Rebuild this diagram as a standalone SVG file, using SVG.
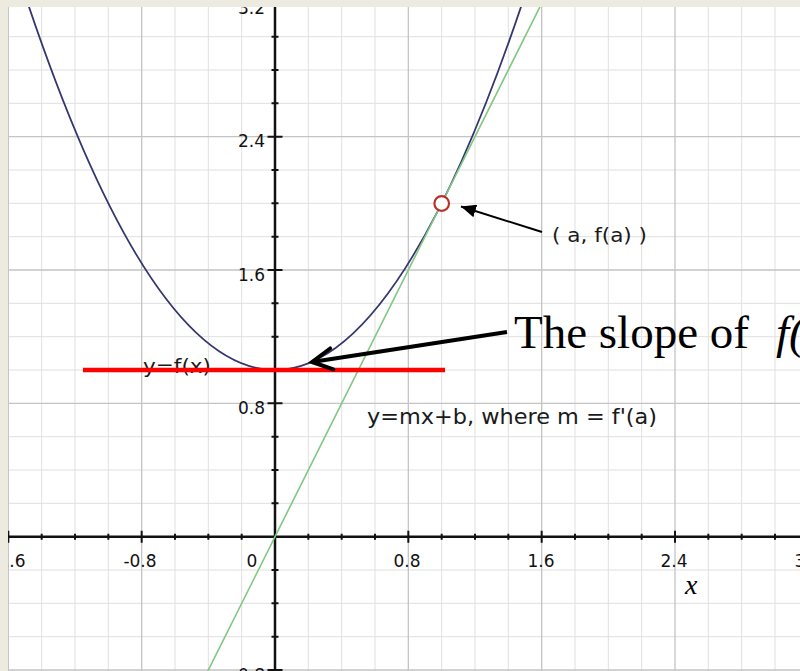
<svg xmlns="http://www.w3.org/2000/svg" width="800" height="671" viewBox="0 0 800 671">
<style>
.minor{stroke:#e0e0e0;stroke-width:1;fill:none}
.major{stroke:#c4c4c4;stroke-width:1.3;fill:none}
.axis{stroke:#111;stroke-width:2.5;fill:none}
.tick{stroke:#111;stroke-width:2;fill:none}
.lbl{font-family:"DejaVu Sans",Verdana,sans-serif;font-size:17px;fill:#111}
.note{font-family:"DejaVu Sans",Verdana,sans-serif;fill:#1a1a1a}
.serif{font-family:"Liberation Serif","Times New Roman",serif;fill:#000}
</style>
<defs>
<clipPath id="panel"><rect x="8" y="7" width="792" height="664"/></clipPath>
<marker id="tri" markerUnits="userSpaceOnUse" viewBox="0 0 15 13" refX="15" refY="6.5" markerWidth="15" markerHeight="13" orient="auto">
<path d="M0,0 L15,6.5 L0,13 z" fill="#000"/>
</marker>
<marker id="vee" markerUnits="userSpaceOnUse" viewBox="-4 -15 28 30" refX="20" refY="0" markerWidth="28" markerHeight="30" orient="auto" style="overflow:visible">
<path d="M0,-10.6 L20,0 L0,10.6" fill="none" stroke="#000" stroke-width="4" stroke-linecap="round"/>
</marker>
</defs>
<rect x="0" y="0" width="800" height="671" fill="#EDEAE0"/>
<g clip-path="url(#panel)">
<rect x="8" y="7" width="792" height="664" fill="#fff"/>
<g id="grid">
<path class="minor" d="M41.67 0V671M75 0V671M108.33 0V671M175 0V671M208.33 0V671M241.67 0V671M308.33 0V671M341.67 0V671M375 0V671M441.67 0V671M475 0V671M508.33 0V671M575 0V671M608.33 0V671M641.67 0V671M708.33 0V671M741.67 0V671M775 0V671M0 636.67H800M0 603.33H800M0 570H800M0 503.33H800M0 470H800M0 436.67H800M0 370H800M0 336.67H800M0 303.33H800M0 236.67H800M0 203.33H800M0 170H800M0 103.33H800M0 70H800M0 36.67H800"/>
<path class="major" d="M8.33 0V671M141.67 0V671M408.33 0V671M541.67 0V671M675 0V671M0 670H800M0 403.33H800M0 270H800M0 136.67H800M0 3.33H800"/>
</g>
<g id="axes">
<path class="axis" d="M8 536.67H800M275 7V671"/>
<path class="tick" d="M41.67 533.67V539.67M75 533.67V539.67M108.33 533.67V539.67M175 533.67V539.67M208.33 533.67V539.67M241.67 533.67V539.67M308.33 533.67V539.67M341.67 533.67V539.67M375 533.67V539.67M441.67 533.67V539.67M475 533.67V539.67M508.33 533.67V539.67M575 533.67V539.67M608.33 533.67V539.67M641.67 533.67V539.67M708.33 533.67V539.67M741.67 533.67V539.67M775 533.67V539.67"/>
<path class="tick" d="M8.33 530.67V542.67M141.67 530.67V542.67M408.33 530.67V542.67M541.67 530.67V542.67M675 530.67V542.67"/>
<path class="tick" d="M271.5 636.67H278.5M271.5 603.33H278.5M271.5 570H278.5M271.5 503.33H278.5M271.5 470H278.5M271.5 436.67H278.5M271.5 370H278.5M271.5 336.67H278.5M271.5 303.33H278.5M271.5 236.67H278.5M271.5 203.33H278.5M271.5 170H278.5M271.5 103.33H278.5M271.5 70H278.5M271.5 36.67H278.5"/>
<path class="tick" d="M267.5 670H282.5M267.5 403.33H282.5M267.5 270H282.5M267.5 136.67H282.5M267.5 3.33H282.5"/>
<g class="lbl" text-anchor="end">
<text x="265" y="14">3.2</text>
<text x="265" y="146.5">2.4</text>
<text x="265" y="281">1.6</text>
<text x="265" y="414">0.8</text>
<text x="265" y="681">-0.8</text>
</g>
<g class="lbl" text-anchor="middle">
<text x="9" y="567">-1.6</text>
<text x="140" y="567">-0.8</text>
<text x="252" y="567">0</text>
<text x="407" y="567">0.8</text>
<text x="541" y="567">1.6</text>
<text x="674" y="567">2.4</text>
<text x="808" y="567">3.2</text>
</g>
<text class="serif" x="685" y="594" font-size="28" font-style="italic">x</text>
</g>
<g id="curves">
<path id="parabola" d="M8.33,-56.67 Q275,796.67 541.67,-56.67" fill="none" stroke="#35356f" stroke-width="1.8"/>
<path id="tangent" d="M191.67,703.33 L558.33,-30" fill="none" stroke="#82c882" stroke-width="1.6"/>
</g>
<g id="label-yfx">
<text class="note" x="143" y="373" font-size="19" textLength="68" lengthAdjust="spacingAndGlyphs">y=f(x)</text>
</g>
<g id="horizontal-tangent">
<path d="M83 370H445" stroke="#ff0000" stroke-width="4.5"/>
</g>
<g id="label-tangent">
<text class="note" x="367" y="424" font-size="21" textLength="290" lengthAdjust="spacingAndGlyphs">y=mx+b, where m = f'(a)</text>
</g>
<g id="point-a">
<circle cx="441.7" cy="203.5" r="7.3" fill="#fff" stroke="#b8322a" stroke-width="2.2"/>
</g>
<g id="label-point">
<text class="note" x="552" y="242" font-size="19" textLength="95" lengthAdjust="spacingAndGlyphs">( a, f(a) )</text>
</g>
<g id="label-slope">
<text class="serif" x="514" y="348" font-size="47">The slope of<tspan x="776" font-style="italic">f(</tspan></text>
</g>
<g id="connectors">
<path d="M542 232L461 206.5" fill="none" stroke="#000" stroke-width="2" marker-end="url(#tri)"/>
<path d="M507 332L312 362" fill="none" stroke="#000" stroke-width="4" marker-end="url(#vee)"/>
</g>
</g>
</svg>
